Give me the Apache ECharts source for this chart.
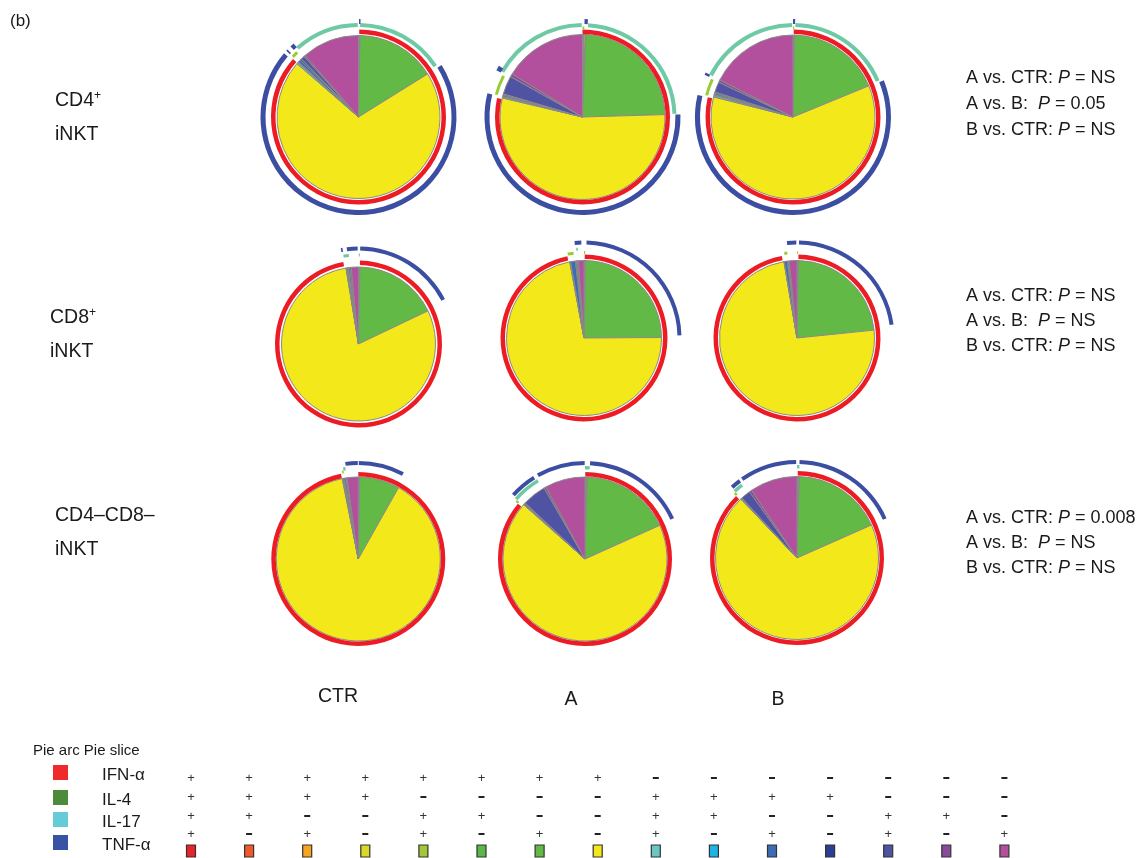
<!DOCTYPE html>
<html><head><meta charset="utf-8">
<script src="https://cdn.jsdelivr.net/npm/echarts@6/dist/echarts.min.js"></script>
<style>html,body{margin:0;padding:0;background:#fff}#c{width:1148px;height:858px}</style>
</head><body><div id="c"></div>
<script>
// ---------- DATA ----------
// Boolean category table (15 combinations)
const ifnRow  = ['+','+','+','+','+','+','+','+','-','-','-','-','-','-','-'];
const il4Row  = ['+','+','+','+','-','-','-','-','+','+','+','+','-','-','-'];
const il17Row = ['+','+','-','-','+','+','-','-','+','+','-','-','+','+','-'];
const tnfRow  = ['+','-','+','-','+','-','+','-','+','-','+','-','+','-','+'];
const categoryColors = ['#e8232a','#f05a28','#f7a521','#dcd82a','#a2c83a','#5bb848','#63b946','#f2e81a',
                        '#6ac6c3','#1fb3e8','#3b6cb5','#2b3f93','#5052a3','#8a4b9c','#b2509d'];
const markerNames  = ['IFN-\u03b1','IL-4','IL-17','TNF-\u03b1'];
const markerColors = ['#ee2a2a','#4e8a3c','#66cbd8','#3a52a3'];
const columnLabels = ['CTR','A','B'];
const rowLabels = [['CD4{sup|+}','iNKT'],['CD8{sup|+}','iNKT'],['CD4\u2013CD8\u2013','iNKT']];
const statLines = [
  ['A vs. CTR: {i|P} = NS','A vs. B:  {i|P} = 0.05','B vs. CTR: {i|P} = NS'],
  ['A vs. CTR: {i|P} = NS','A vs. B:  {i|P} = NS','B vs. CTR: {i|P} = NS'],
  ['A vs. CTR: {i|P} = 0.008','A vs. B:  {i|P} = NS','B vs. CTR: {i|P} = NS']
];

// Slice values (% of cells) per category 1..15
const cd4Ctr  = [0.05,0.05,0.05,0.05,0.05,0.05,15.9,70.5,0.3,0.2,0.5,0.3,0.7,0.3,11.4];
const cd4A    = [0.1,0.05,0.1,0.05,0.3,0.05,23.8,54.0,0.2,0.1,0.3,0.2,3.6,0.6,16.2];
const cd4B    = [0.05,0.05,0.05,0.05,0.1,0.05,18.4,60.0,0.3,0.2,0.3,0.2,2.0,0.5,17.5];
const cd8Ctr  = [0.05,0.05,0.05,0.05,0.05,0.05,17.6,79.4,0.1,0.1,0.2,0.1,0.3,0.3,1.5];
const cd8A    = [0.05,0.05,0.05,0.05,0.1,0.05,24.5,72.0,0.1,0.1,1.0,0.2,0.2,0.2,1.15];
const cd8B    = [0.05,0.05,0.05,0.05,0.05,0.05,23.1,74.0,0.05,0.05,0.6,0.1,0.2,0.1,1.6];
const dnCtr   = [0.05,0.05,0.05,0.05,0.05,0.05,7.9,89.0,0.1,0.05,0.2,0.1,0.3,0.2,2.2];
const dnA     = [0.1,0.05,0.1,0.05,0.1,0.05,17.8,68.2,0.1,0.05,0.2,0.1,4.7,0.4,7.9];
const dnB     = [0.1,0.05,0.1,0.05,0.1,0.05,17.9,69.5,0.1,0.05,0.1,0.05,1.9,0.5,9.4];

// Arc spans (degrees clockwise from 12 o'clock), per marker ring
const cd4CtrArcs = { ifn:[[0.5,311.5]], il4:[[312.5,316.5]], il17:[[318.5,359.5],[1,56.5]], tnf:[[58,310.5],[312.5,313.5],[316,318.5],[0.3,1.2]] };
const cd4AArcs   = { ifn:[[0,282.5]], il4:[[284.5,297.5],[0,1.2]], il17:[[299.5,359.5],[3.5,88]], tnf:[[88.5,284],[298.5,301.5],[1.2,3.2]] };
const cd4BArcs   = { ifn:[[0.5,283]], il4:[[284,295],[0,0.8]], il17:[[297,359.5],[1.5,67]], tnf:[[68,283],[295.5,297],[0,1.3]] };
const cd8CtrArcs = { ifn:[[1,349.5]], il4:[], il17:[[350.3,353.8],[0.2,0.9]], tnf:[[1,62.5],[353,359.5],[349.5,350.5]] };
const cd8AArcs   = { ifn:[[0.5,348.5]], il4:[[349,353],[0,0.8]], il17:[[355,356]], tnf:[[1.5,88.4],[354.4,358.4]] };
const cd8BArcs   = { ifn:[[1,349.5]], il4:[[351.5,353.5],[0,0.6]], il17:[], tnf:[[1.2,82],[354,359.6]] };
const dnCtrArcs  = { ifn:[[0,348.5]], il4:[[349.5,350.5]], il17:[[350.5,352]], tnf:[[352.3,359.7],[0.3,27.7]] };
const dnAArcs    = { ifn:[[0.2,309.5]], il4:[[309.5,311]], il17:[[311,329],[0,3]], tnf:[[3,65.3],[330.6,359.8],[311.8,328]] };
const dnBArcs    = { ifn:[[0.5,315.5]], il4:[[315.5,317]], il17:[[317,323],[0,1.5]], tnf:[[1.5,66],[325.2,359.5],[317.5,323.5]] };

// ---------- LAYOUT ----------
const FONT = '"Liberation Sans", Arial, Helvetica, sans-serif';
const ringColors = { ifn:'#ed1c24', il4:'#99cc33', il17:'#6ec9a5', tnf:'#3b4ea2' };
const pies = [
  { v:cd4Ctr, arcs:cd4CtrArcs, c:[358.5,117], r:81.5, row:0 },
  { v:cd4A,   arcs:cd4AArcs,   c:[582.5,117], r:82.5, row:0 },
  { v:cd4B,   arcs:cd4BArcs,   c:[793,117],   r:82,   row:0 },
  { v:cd8Ctr, arcs:cd8CtrArcs, c:[358.5,344], r:77,   row:1 },
  { v:cd8A,   arcs:cd8AArcs,   c:[584,338],   r:77.5, row:1 },
  { v:cd8B,   arcs:cd8BArcs,   c:[797,338],   r:77.5, row:1 },
  { v:dnCtr,  arcs:dnCtrArcs,  c:[358.3,559], r:82,   row:2 },
  { v:dnA,    arcs:dnAArcs,    c:[585,559],   r:82,   row:2 },
  { v:dnB,    arcs:dnBArcs,    c:[797,558],   r:81.5, row:2 }
];
const ringRadii = [
  { ifn:[83,87.5], il4:[87.5,90.5], il17:[90,94], tnf:[93,98] },
  { ifn:[79,83.5], il4:[84,87],     il17:[87.5,90.5], tnf:[93.5,97.5] },
  { ifn:[82.5,87], il4:[87,90],     il17:[89.5,93], tnf:[94,98] }
];

function ringData(segs, color) {
  const s = segs.slice().sort((a,b)=>a[0]-b[0]);
  const out = []; let pos = 0;
  for (const [a,b] of s) {
    if (a > pos) out.push({ value:a-pos, itemStyle:{ color:'rgba(0,0,0,0)' } });
    out.push({ value:b-a, itemStyle:{ color } });
    pos = b;
  }
  if (pos < 360) out.push({ value:360-pos, itemStyle:{ color:'rgba(0,0,0,0)' } });
  return out;
}

const series = [];
pies.forEach(p => {
  series.push({
    type:'pie', center:p.c, radius:[0,p.r], startAngle:90, clockwise:true, silent:true,
    label:{show:false}, labelLine:{show:false}, emphasis:{disabled:true}, minAngle:0,
    itemStyle:{ borderColor:'#8a8a8a', borderWidth:1 },
    data:p.v.map((val,i)=>({ value:val, itemStyle:{ color:categoryColors[i] } }))
  });
  ['ifn','il4','il17','tnf'].forEach(k => {
    if (!p.arcs[k] || !p.arcs[k].length) return;
    series.push({
      type:'pie', center:p.c, radius:ringRadii[p.row][k], startAngle:90, clockwise:true, silent:true,
      label:{show:false}, labelLine:{show:false}, emphasis:{disabled:true}, minAngle:0,
      itemStyle:{ borderWidth:0 }, data:ringData(p.arcs[k], ringColors[k])
    });
  });
});

const graphic = [];
function txt(x, y, text, size, extra) {
  graphic.push({ type:'text', x, y, silent:true,
    style:Object.assign({ text, fontSize:size, fontFamily:FONT, fill:'#1a1a1a', align:'left', verticalAlign:'middle' }, extra||{}) });
}
txt(10, 21, '(b)', 17);
const supRich = { sup:{ fontSize:12, fontFamily:FONT, fill:'#1a1a1a', verticalAlign:'top', padding:[0,0,10,0] } };
const rowLabelPos = [[55,101,135],[50,318,352],[55,516,550]];
rowLabels.forEach((lab,i) => {
  txt(rowLabelPos[i][0], rowLabelPos[i][1], lab[0], 19.5, { rich:supRich });
  txt(rowLabelPos[i][0], rowLabelPos[i][2], lab[1], 19.5);
});
const colLabelPos = [[338,697],[571,700],[778,700]];
columnLabels.forEach((lab,i) => txt(colLabelPos[i][0], colLabelPos[i][1], lab, 19.5, { align:'center' }));
const statY = [[78,104,130],[296,321,346],[518,543,568]];
const statRich = { i:{ fontStyle:'italic', fontSize:18, fontFamily:FONT, fill:'#1a1a1a' } };
statLines.forEach((lines,i) => lines.forEach((l,j) => txt(966, statY[i][j], l, 18, { rich:statRich })));

// Legend
txt(33, 751, 'Pie arc Pie slice', 15);
const legY = [772, 797, 819, 842];
markerNames.forEach((m,i) => {
  graphic.push({ type:'rect', silent:true, shape:{ x:53, y:legY[i]-7, width:15, height:15 }, style:{ fill:markerColors[i] } });
  txt(102, legY[i]+3, m, 17);
});
const gridRows = [ifnRow, il4Row, il17Row, tnfRow];
const gridY = [778, 797, 816, 834];
const gx0 = 191, gdx = 58.1;
gridRows.forEach((row,ri) => row.forEach((s,ci) => {
  const x = gx0 + ci*gdx;
  if (s === '+') txt(x, gridY[ri], '+', 13, { align:'center', fill:'#333' });
  else graphic.push({ type:'rect', silent:true, shape:{ x:x-3, y:gridY[ri]-1, width:6, height:2 }, style:{ fill:'#222' } });
}));
categoryColors.forEach((c,ci) => {
  const x = gx0 + ci*gdx;
  graphic.push({ type:'rect', silent:true, shape:{ x:x-4.5, y:845, width:9, height:12 }, style:{ fill:c, stroke:'#333', lineWidth:1.2 } });
});

const chart = echarts.init(document.getElementById('c'), null, { renderer:'canvas' });
chart.setOption({ animation:false, backgroundColor:'#fff', series, graphic });
</script></body></html>
